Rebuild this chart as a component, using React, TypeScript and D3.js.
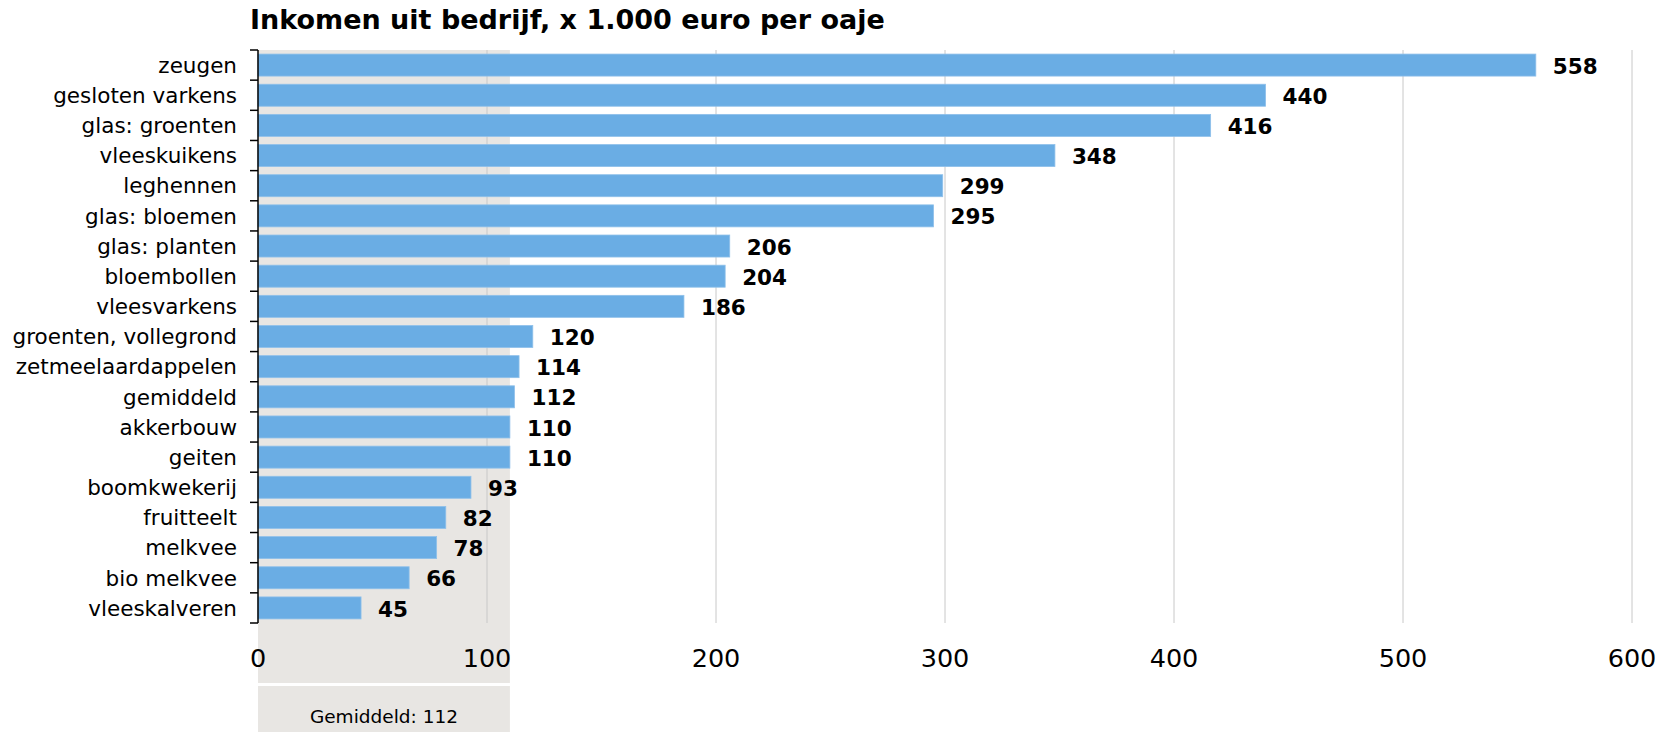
import { useEffect, useRef } from 'react'
import * as d3 from 'd3'

const categories = [
  'zeugen', 'gesloten varkens', 'glas: groenten', 'vleeskuikens', 'leghennen',
  'glas: bloemen', 'glas: planten', 'bloembollen', 'vleesvarkens', 'groenten, vollegrond',
  'zetmeelaardappelen', 'gemiddeld', 'akkerbouw', 'geiten', 'boomkwekerij',
  'fruitteelt', 'melkvee', 'bio melkvee', 'vleeskalveren',
]
const values = [558, 440, 416, 348, 299, 295, 206, 204, 186, 120, 114, 112, 110, 110, 93, 82, 78, 66, 45]
const xTicks = [0, 100, 200, 300, 400, 500, 600]
const averageValue = 112
const bandValue = 110

const W = 1667
const H = 732
const FONT = '"DejaVu Sans", Verdana, sans-serif'

export default function App(): JSX.Element {
  const ref = useRef<SVGSVGElement>(null)

  useEffect(() => {
    document.body.style.margin = '0'
    const svg = d3.select(ref.current)
    svg.selectAll('*').remove()

    const left = 258, right = 1632, top = 50, bottom = 623

    const x = d3.scaleLinear().domain([0, 600]).range([left, right])
    const y = d3.scaleBand<string>().domain(categories).range([top, bottom]).paddingInner(0.27).paddingOuter(0.135)

    // gemiddeld band
    svg.append('rect')
      .attr('x', x(0)).attr('y', top)
      .attr('width', x(bandValue) - x(0)).attr('height', 683 - top)
      .attr('fill', '#e8e6e3')
    svg.append('rect')
      .attr('x', x(0)).attr('y', 686)
      .attr('width', x(bandValue) - x(0)).attr('height', H - 686)
      .attr('fill', '#e8e6e3')
    svg.append('text')
      .attr('x', (x(0) + x(bandValue)) / 2).attr('y', 723)
      .attr('text-anchor', 'middle')
      .attr('font-family', FONT).attr('font-size', 18.5)
      .text(`Gemiddeld: ${averageValue}`)

    // gridlines
    svg.append('g').selectAll('line').data(xTicks.slice(1)).join('line')
      .attr('x1', d => x(d)).attr('x2', d => x(d))
      .attr('y1', top).attr('y2', bottom)
      .attr('stroke', '#c8c8c8').attr('stroke-width', 1)

    // x tick labels
    svg.append('g').selectAll('text').data(xTicks).join('text')
      .attr('x', d => x(d)).attr('y', 667)
      .attr('text-anchor', 'middle')
      .attr('font-family', FONT).attr('font-size', 25.5)
      .text(d => d)

    // bars
    svg.append('g').selectAll('rect').data(values).join('rect')
      .attr('x', x(0))
      .attr('y', (_, i) => y(categories[i]) as number)
      .attr('width', d => x(d) - x(0))
      .attr('height', y.bandwidth())
      .attr('fill', '#6aade4')
      .attr('stroke', '#8fc0ea').attr('stroke-width', 0.8)

    // value labels
    svg.append('g').selectAll('text').data(values).join('text')
      .attr('x', d => x(d) + 17)
      .attr('y', (_, i) => (y(categories[i]) as number) + y.bandwidth() / 2)
      .attr('dy', '0.4em')
      .attr('font-family', FONT).attr('font-size', 21.5).attr('font-weight', 'bold')
      .text(d => d)

    // y axis
    const step = (bottom - top) / categories.length
    svg.append('line')
      .attr('x1', left).attr('x2', left).attr('y1', top).attr('y2', bottom)
      .attr('stroke', '#000').attr('stroke-width', 1.5)
    svg.append('g').selectAll('line').data(d3.range(categories.length + 1)).join('line')
      .attr('x1', left - 8).attr('x2', left)
      .attr('y1', i => top + i * step).attr('y2', i => top + i * step)
      .attr('stroke', '#000').attr('stroke-width', 1.5)

    svg.append('g').selectAll('text').data(categories).join('text')
      .attr('x', 237)
      .attr('y', d => (y(d) as number) + y.bandwidth() / 2)
      .attr('dy', '0.36em')
      .attr('text-anchor', 'end')
      .attr('font-family', FONT).attr('font-size', 21.5)
      .text(d => d)

    // title
    svg.append('text')
      .attr('x', 250).attr('y', 29)
      .attr('font-family', FONT).attr('font-size', 27).attr('font-weight', 'bold')
      .text('Inkomen uit bedrijf, x 1.000 euro per oaje')
  }, [])

  return <svg ref={ref} width={W} height={H} style={{ display: 'block', background: '#fff' }} />
}
